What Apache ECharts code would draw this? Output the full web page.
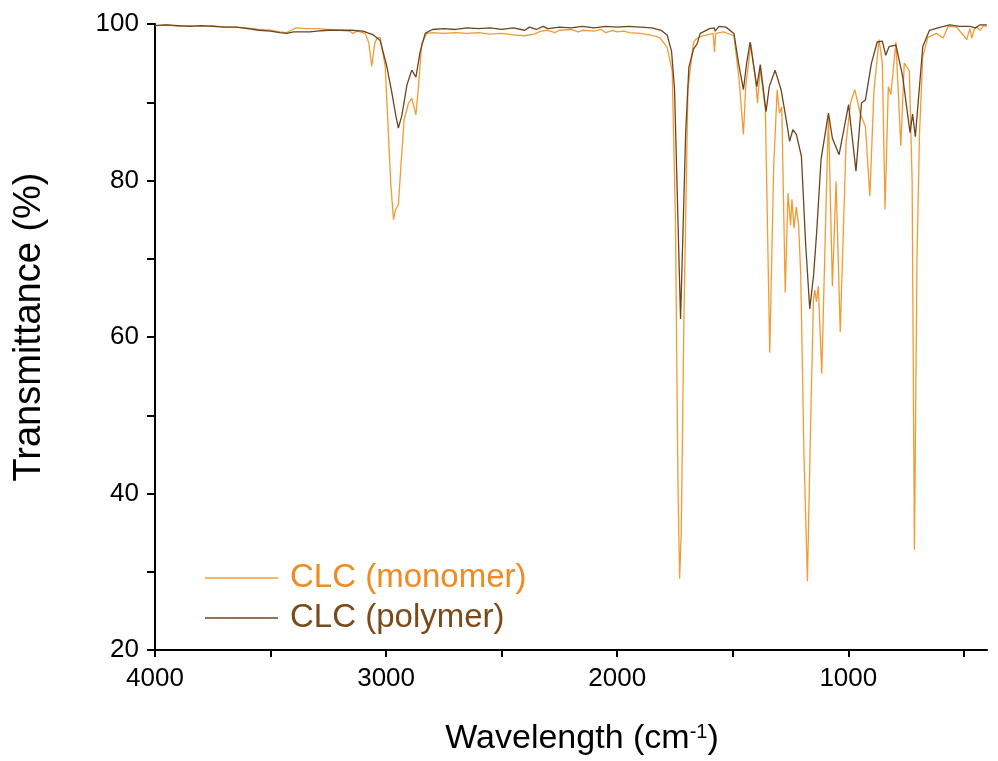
<!DOCTYPE html>
<html>
<head>
<meta charset="utf-8">
<script src="https://cdn.jsdelivr.net/npm/echarts@6/dist/echarts.min.js"></script>
<style>
html,body{margin:0;padding:0;background:#fff;}
#chart{width:998px;height:761px;}
</style>
</head>
<body>
<div id="chart"></div>
<script>
// Series names
var seriesNames = ['CLC (monomer)', 'CLC (polymer)'];
// Tick values
var xTickValues = [4000, 3500, 3000, 2500, 2000, 1500, 1000, 500];
var xLabelValues = [4000, 3000, 2000, 1000];
var yLabelValues = [20, 40, 60, 80, 100];

// [wavenumber (cm-1), transmittance (%)]
var monomer = [
  [4000,99.8],[3950,99.9],[3900,99.7],[3850,99.8],[3800,99.7],[3750,99.8],[3700,99.6],[3650,99.6],
  [3600,99.5],[3550,99.3],[3500,99.2],[3460,99.0],[3430,98.9],[3410,99.2],[3390,99.5],[3350,99.4],
  [3300,99.4],[3250,99.3],[3200,99.2],[3160,99.1],[3143,98.8],[3125,99.1],[3090,98.8],[3075,97.6],
  [3062,94.6],[3050,97.4],[3040,98.2],[3026,98.3],[3004,94.6],[2990,86.0],[2980,79.7],[2968,75.0],
  [2960,76.2],[2947,76.9],[2936,81.8],[2922,87.8],[2903,89.9],[2889,90.5],[2871,88.4],[2860,92.0],
  [2846,97.5],[2824,98.8],[2800,98.9],[2750,98.8],[2700,98.9],[2650,98.8],[2600,98.9],[2550,98.7],
  [2500,98.8],[2450,98.6],[2400,98.5],[2360,98.7],[2330,99.1],[2300,99.2],[2270,98.9],[2250,99.2],
  [2200,99.3],[2170,99.0],[2150,99.2],[2100,99.1],[2070,99.3],[2050,98.9],[2020,99.2],[2000,99.0],
  [1970,99.1],[1950,98.9],[1900,98.8],[1860,98.6],[1830,98.4],[1814,98.2],[1784,97.0],[1762,94.0],
  [1748,74.8],[1737,40.7],[1730,29.1],[1723,35.0],[1711,63.0],[1694,91.7],[1670,97.6],[1661,98.0],
  [1641,98.4],[1610,98.6],[1585,98.8],[1579,96.4],[1574,98.8],[1540,99.0],[1495,98.5],[1473,93.0],
  [1454,85.9],[1444,92.0],[1422,97.5],[1400,92.4],[1393,89.9],[1381,94.4],[1359,89.0],[1340,58.0],
  [1323,81.8],[1308,91.6],[1298,88.6],[1288,89.4],[1273,65.7],[1261,78.4],[1250,74.3],[1244,77.6],
  [1235,73.9],[1225,76.6],[1215,74.3],[1206,68.0],[1192,45.0],[1177,28.8],[1166,45.0],[1151,64.8],
  [1145,66.0],[1138,64.5],[1130,66.5],[1115,55.3],[1098,75.0],[1086,88.4],[1069,66.5],[1053,79.9],
  [1035,60.6],[1010,84.8],[990,90.0],[972,91.6],[948,88.5],[926,86.9],[907,78.0],[889,91.5],
  [867,98.0],[853,95.0],[841,76.3],[827,92.0],[816,91.0],[794,97.7],[773,84.4],[758,95.0],
  [736,94.0],[724,80.0],[714,32.8],[703,70.0],[692,86.1],[678,95.8],[656,98.3],[619,98.8],
  [590,98.2],[568,99.7],[532,99.6],[503,98.6],[488,98.0],[474,99.4],[466,98.2],[455,99.3],
  [444,99.6],[430,99.2],[415,99.8],[401,99.7]
];

var polymer = [
  [4000,99.8],[3950,99.9],[3900,99.8],[3850,99.7],[3800,99.8],[3750,99.7],[3700,99.6],[3650,99.6],
  [3600,99.4],[3550,99.2],[3500,99.1],[3460,98.9],[3430,98.8],[3400,99.0],[3370,99.0],[3330,99.0],
  [3300,99.1],[3250,99.2],[3200,99.2],[3150,99.2],[3100,99.1],[3055,98.6],[3026,97.9],[2997,94.6],
  [2975,91.2],[2958,88.3],[2947,86.7],[2932,88.3],[2910,92.2],[2889,94.1],[2871,93.2],[2853,96.4],
  [2831,98.8],[2800,99.3],[2750,99.4],[2700,99.3],[2650,99.5],[2600,99.4],[2550,99.5],[2500,99.3],
  [2450,99.5],[2400,99.2],[2380,99.6],[2350,99.3],[2320,99.7],[2300,99.4],[2250,99.6],[2200,99.5],
  [2150,99.7],[2100,99.5],[2050,99.7],[2000,99.6],[1950,99.7],[1900,99.6],[1850,99.5],[1810,99.2],
  [1784,98.6],[1765,96.5],[1752,91.7],[1737,74.7],[1726,62.3],[1715,74.0],[1704,86.0],[1690,94.5],
  [1670,96.8],[1654,97.5],[1641,98.8],[1600,99.4],[1580,99.5],[1576,99.1],[1560,99.7],[1530,99.6],
  [1495,98.8],[1475,95.0],[1454,91.6],[1440,95.0],[1425,97.7],[1396,92.0],[1381,94.8],[1356,88.8],
  [1342,92.0],[1317,94.1],[1291,91.6],[1270,88.0],[1254,85.0],[1240,86.5],[1225,85.9],[1203,83.1],
  [1185,72.0],[1167,63.6],[1150,68.0],[1137,73.4],[1118,82.7],[1086,88.6],[1069,85.4],[1040,83.3],
  [999,89.7],[985,86.0],[967,81.2],[943,89.9],[926,90.3],[900,95.0],[875,97.7],[853,97.8],
  [838,96.0],[824,97.1],[794,97.3],[765,93.3],[733,86.1],[722,88.5],[710,85.6],[678,97.1],
  [649,99.2],[600,99.6],[561,99.9],[520,99.7],[474,99.7],[450,99.5],[430,99.9],[401,99.9]
];

var chart = echarts.init(document.getElementById('chart'), null, {renderer: 'canvas'});
var FONT = 'Liberation Sans, Arial, sans-serif';
chart.setOption({
  animation: false,
  backgroundColor: '#ffffff',
  grid: {left: 155, right: 11, top: 24, bottom: 109, containLabel: false},
  legend: {
    orient: 'vertical',
    left: 200,
    top: 556,
    width: 500,
    icon: 'rect',
    itemWidth: 73,
    itemHeight: 1.4,
    itemGap: 6,
    data: [
      {name: seriesNames[0], textStyle: {color: '#F08A22'}},
      {name: seriesNames[1], textStyle: {color: '#7A4A18'}}
    ],
    textStyle: {fontFamily: FONT, fontSize: 33, lineHeight: 34, padding: [0, 0, 0, 7]}
  },
  xAxis: {
    type: 'value',
    inverse: true,
    min: 400,
    max: 4000,
    splitLine: {show: false},
    axisLine: {onZero: false, lineStyle: {color: '#000', width: 2}},
    axisTick: {show: true, length: 7, lineStyle: {color: '#000', width: 2}, customValues: xTickValues},
    axisLabel: {customValues: xLabelValues, formatter: function (v) { return String(v); },
      color: '#000', fontFamily: FONT, fontSize: 26, margin: 16},
    name: 'Wavelength (cm{sup|-1})',
    nameLocation: 'middle',
    nameGap: 72,
    nameTextStyle: {
      color: '#000', fontFamily: FONT, fontSize: 34, padding: [0, 0, 0, 22],
      rich: {sup: {fontFamily: FONT, fontSize: 20, verticalAlign: 'top', padding: [0, 0, 14, 0], color: '#000'}}
    }
  },
  yAxis: {
    type: 'value',
    min: 20,
    max: 100,
    interval: 20,
    splitLine: {show: false},
    axisLine: {lineStyle: {color: '#000', width: 2}},
    axisTick: {show: true, length: 8, lineStyle: {color: '#000', width: 2}},
    minorTick: {show: true, splitNumber: 2, length: 8, lineStyle: {color: '#000', width: 2}},
    minorSplitLine: {show: false},
    axisLabel: {customValues: yLabelValues, color: '#000', fontFamily: FONT, fontSize: 26, margin: 16},
    name: 'Transmittance (%)',
    nameLocation: 'middle',
    nameGap: 106,
    nameTextStyle: {color: '#000', fontFamily: FONT, fontSize: 38, padding: [0, 0, 0, 20]}
  },
  series: [
    {
      name: seriesNames[0], type: 'line', data: monomer, showSymbol: false, symbol: 'none',
      lineStyle: {color: '#F29B35', width: 1.3}, itemStyle: {color: '#F29B35'}, z: 2
    },
    {
      name: seriesNames[1], type: 'line', data: polymer, showSymbol: false, symbol: 'none',
      lineStyle: {color: '#6B4520', width: 1.3}, itemStyle: {color: '#6B4520'}, z: 3
    }
  ]
});
</script>
</body>
</html>
